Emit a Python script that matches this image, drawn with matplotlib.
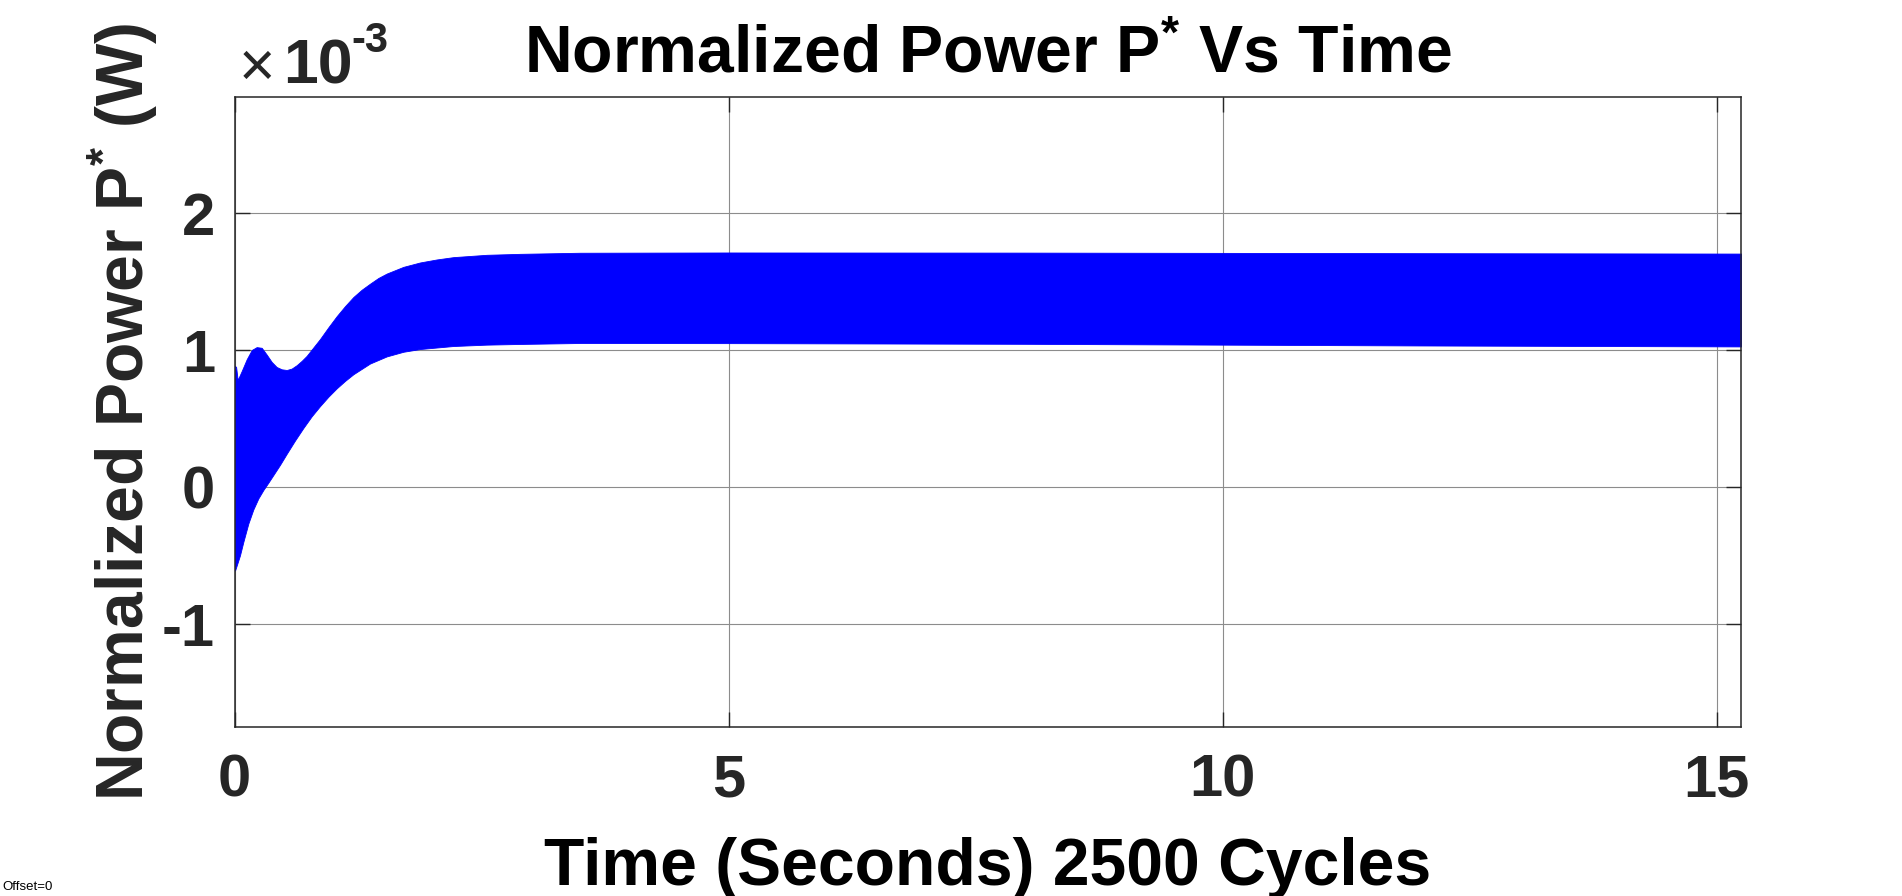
import numpy as np
import matplotlib.pyplot as plt

plt.rcParams['font.family'] = ['Liberation Sans', 'DejaVu Sans']
plt.rcParams['mathtext.fontset'] = 'custom'
plt.rcParams['mathtext.rm'] = 'Liberation Sans:bold'
plt.rcParams['mathtext.it'] = 'Liberation Sans:bold'
plt.rcParams['mathtext.bf'] = 'Liberation Sans:bold'
plt.rcParams['axes.unicode_minus'] = False

# envelope of the oscillating power signal, units of 1e-3 W
upper_t = [0.0, 0.016, 0.032, 0.073, 0.123, 0.174, 0.224, 0.275, 0.325, 0.376, 0.426,
           0.477, 0.528, 0.578, 0.629, 0.680, 0.730, 0.798, 0.865, 0.950, 1.034, 1.118,
           1.203, 1.287, 1.371, 1.456, 1.540, 1.709, 1.877, 2.046, 2.215, 2.552, 2.890,
           3.497, 5.0, 8.0, 10.0, 12.0, 15.25]
upper_p = [0.887, 0.88, 0.784, 0.85, 0.935, 1.003, 1.024, 1.019, 0.970, 0.916, 0.879,
           0.862, 0.857, 0.867, 0.892, 0.924, 0.960, 1.022, 1.083, 1.169, 1.250, 1.323,
           1.390, 1.443, 1.487, 1.529, 1.561, 1.610, 1.642, 1.664, 1.681, 1.698, 1.705,
           1.713, 1.715, 1.714, 1.712, 1.710, 1.707]
lower_t = [0.0, 0.005, 0.022, 0.055, 0.089, 0.140, 0.190, 0.241, 0.292, 0.342, 0.393,
           0.460, 0.528, 0.612, 0.696, 0.781, 0.865, 0.950, 1.034, 1.118, 1.203, 1.371,
           1.540, 1.709, 1.877, 2.215, 2.552, 2.890, 3.497, 5.0, 8.0, 10.0, 12.0, 15.25]
lower_p = [-0.58, -0.608, -0.571, -0.497, -0.399, -0.264, -0.162, -0.081, -0.019, 0.034, 0.090,
           0.164, 0.245, 0.342, 0.433, 0.519, 0.593, 0.662, 0.723, 0.777, 0.826, 0.904,
           0.956, 0.990, 1.010, 1.032, 1.042, 1.047, 1.054, 1.053, 1.048, 1.042, 1.036, 1.029]

xticks = [0, 5, 10, 15]
yticks = [-1, 0, 1, 2]

W, H = 1902, 896
fig = plt.figure(figsize=(W / 100, H / 100), dpi=100)
ax = fig.add_axes([0.1233, 0.1886, 0.7923, 0.7031])

t = np.union1d(upper_t, lower_t)
ax.fill_between(t, np.interp(t, lower_t, lower_p), np.interp(t, upper_t, upper_p),
                color='#0000ff', linewidth=0.6, edgecolor='#0000ff', zorder=2)

ax.set_xlim(0, 15.25)
ax.set_ylim(-1.75, 2.85)
ax.set_xticks(xticks)
ax.set_yticks(yticks)
ax.grid(True, color='#8c8c8c', linewidth=0.8, zorder=0)
ax.set_axisbelow(True)
ax.tick_params(direction='in', length=10.5, width=1.0, top=True, right=True,
               labelsize=43, colors='#262626', pad=14)
ax.tick_params(axis='x', pad=19)
for lbl in ax.get_xticklabels() + ax.get_yticklabels():
    lbl.set_fontweight('bold')
for s in ax.spines.values():
    s.set_color('#262626')
    s.set_linewidth(1.1)

ax.set_title(r'Normalized Power P$^{*}$ Vs Time', fontsize=47.6, fontweight='bold',
             color='black', pad=18)
ax.set_xlabel('Time (Seconds) 2500 Cycles', fontsize=47.5, fontweight='bold', color='black')
ax.set_ylabel(r'Normalized Power P$^{*}$ (W)', fontsize=47.5, fontweight='bold', color='#262626')
ax.xaxis.label.set_va('baseline')
ax.xaxis.set_label_coords(0.5, -0.251)
ax.yaxis.label.set_va('baseline')
ax.yaxis.set_label_coords(-0.060, 0.5)

# exponent label drawn the way MATLAB does it: thin x sign, bold 10, bold superscript
fig.text(239 / W, 1 - 86 / H, '\u00d7', fontsize=45, color='#262626', fontweight='normal',
         ha='left', va='baseline')
fig.text(283 / W, 1 - 83 / H, '10', fontsize=45, color='#262626', fontweight='bold',
         ha='left', va='baseline')
fig.text(351 / W, 1 - 52 / H, '-3', fontsize=30, color='#262626', fontweight='bold',
         ha='left', va='baseline')
fig.text(0.001, 1 - 890 / H, 'Offset=0', fontsize=9.5, color='black', ha='left', va='baseline')

plt.savefig('out.png', dpi=100)
